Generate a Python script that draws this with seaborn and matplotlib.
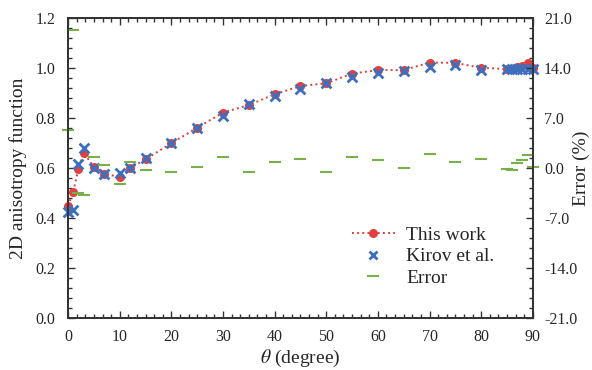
import matplotlib
matplotlib.use("Agg")
import matplotlib.pyplot as plt
import seaborn as sns
import pandas as pd
from matplotlib.ticker import MultipleLocator, AutoMinorLocator, FormatStrFormatter
from matplotlib.lines import Line2D

# Polar angle (degree)
THETA = [0, 1, 2, 3, 5, 7, 10, 12, 15, 20, 25, 30, 35, 40, 45, 50, 55, 60,
         65, 70, 75, 80, 85, 86, 87, 88, 89, 90]

# 2D anisotropy function, this work
THIS_WORK = [0.448, 0.505, 0.595, 0.660, 0.605, 0.576, 0.565, 0.599, 0.635, 0.699,
             0.761, 0.822, 0.852, 0.895, 0.928, 0.939, 0.978, 0.992, 0.992, 1.022,
             1.021, 1.001, 0.996, 0.996, 1.003, 1.009, 1.019, 1.000]

# 2D anisotropy function, Kirov et al.
KIROV = [0.425, 0.430, 0.615, 0.680, 0.600, 0.575, 0.580, 0.598, 0.638, 0.700,
         0.760, 0.808, 0.855, 0.890, 0.915, 0.940, 0.963, 0.981, 0.990, 1.003,
         1.013, 0.993, 0.996, 0.996, 0.996, 0.996, 0.996, 0.998]

# Relative difference (%)
ERROR = [5.3, 19.4, -3.5, -3.8, 1.6, 0.4, -2.2, 0.8, -0.3, -0.5,
         0.1, 1.5, -0.6, 0.8, 1.3, -0.5, 1.6, 1.1, 0.0, 2.0,
         0.9, 1.3, -0.1, -0.3, 0.7, 1.1, 1.8, 0.1]

RED = '#e2403c'
BLUE = '#3d6fbf'
GREEN = '#78b04a'

df = pd.DataFrame({'theta': THETA, 'this': THIS_WORK, 'kirov': KIROV, 'err': ERROR})

sns.set_style('ticks')
plt.rcParams['font.family'] = ['Liberation Serif', 'DejaVu Serif']
plt.rcParams['mathtext.fontset'] = 'stix'

fig = plt.figure(figsize=(5.92, 3.70), dpi=100)
ax = fig.add_axes([0.115, 0.141, 0.785, 0.810])
ax2 = ax.twinx()

sns.lineplot(data=df, x='theta', y='this', ax=ax, color=RED, linestyle=':',
             linewidth=1.4, marker='o', markersize=6.5, markeredgewidth=0,
             zorder=3, clip_on=False)
sns.scatterplot(data=df, x='theta', y='kirov', ax=ax, color=BLUE, marker='x',
                s=50, linewidth=2.0, zorder=4, clip_on=False)
sns.scatterplot(data=df, x='theta', y='err', ax=ax2, color=GREEN, marker='_',
                s=70, linewidth=1.5, zorder=2, clip_on=False)

ax.set_xlim(0, 90)
ax.set_ylim(0, 1.2)
ax2.set_ylim(-21, 21)

ax.xaxis.set_major_locator(MultipleLocator(10))
ax.xaxis.set_minor_locator(AutoMinorLocator(6))
ax.yaxis.set_major_locator(MultipleLocator(0.2))
ax.yaxis.set_minor_locator(AutoMinorLocator(5))
ax.yaxis.set_major_formatter(FormatStrFormatter('%.1f'))
ax2.yaxis.set_major_locator(MultipleLocator(7))
ax2.yaxis.set_minor_locator(AutoMinorLocator(5))
ax2.yaxis.set_major_formatter(FormatStrFormatter('%.1f'))

for a in (ax, ax2):
    for s in a.spines.values():
        s.set_color('#333333')
        s.set_linewidth(1.3)
ax.tick_params(which='both', direction='in', top=True, right=False,
               labelsize=11.5, color='#333333', width=1.0)
ax.tick_params(axis='y', pad=9)
ax.tick_params(axis='x', pad=8)
ax.tick_params(which='major', length=5)
ax.tick_params(which='minor', length=3)
ax2.tick_params(which='both', direction='in', labelsize=11.5, color='#333333',
                width=1.0, pad=8)
ax2.tick_params(which='major', length=5)
ax2.tick_params(which='minor', length=3)

ax.set_xlabel(r'$\theta$ (degree)', fontsize=14, labelpad=2)
ax.set_ylabel('2D anisotropy function', fontsize=14, labelpad=6)
ax2.set_ylabel('Error (%)', fontsize=14)
ax2.yaxis.set_label_coords(1.104, 0.5)
ax2.yaxis.label.set_verticalalignment('center')

handles = [
    Line2D([], [], color=RED, linestyle=':', linewidth=1.4, marker='o',
           markersize=6.5, markeredgewidth=0),
    Line2D([], [], color=BLUE, linestyle='none', marker='x', markersize=6,
           markeredgewidth=2.0),
    Line2D([], [], color=GREEN, linestyle='none', marker='_', markersize=8,
           markeredgewidth=1.5),
]
ax2.legend(handles, ['This work', 'Kirov et al.', 'Error'], frameon=False,
           fontsize=14, loc='lower right', bbox_to_anchor=(0.955, 0.045),
           handlelength=2.2, labelspacing=0.2, handletextpad=0.6)

fig.savefig('out.png', dpi=100)
